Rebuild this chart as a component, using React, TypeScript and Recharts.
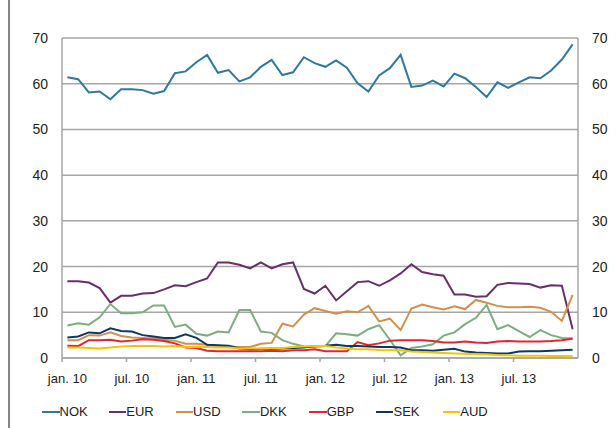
import { CartesianGrid, Line, LineChart, XAxis, YAxis } from 'recharts'

const monthNames = ['jan.', 'feb.', 'mar.', 'apr.', 'mai', 'jun.', 'jul.', 'aug.', 'sep.', 'okt.', 'nov.', 'des.']
const years = ['10', '11', '12', '13']
const months = years.flatMap((y) => monthNames.map((m) => `${m} ${y}`))

const yTicks = [0, 10, 20, 30, 40, 50, 60, 70]

const nok = [
  61.4, 61.0, 58.1, 58.3, 56.6, 58.8, 58.8, 58.6, 57.8, 58.4, 62.3, 62.7,
  64.7, 66.3, 62.4, 63.0, 60.5, 61.4, 63.7, 65.2, 61.9, 62.5, 65.8, 64.5,
  63.7, 65.1, 63.5, 60.1, 58.3, 61.8, 63.4, 66.3, 59.3, 59.6, 60.7, 59.4,
  62.2, 61.2, 59.3, 57.1, 60.3, 59.1, 60.3, 61.4, 61.2, 62.9, 65.3, 68.6,
]
const eur = [
  16.8, 16.8, 16.5, 15.3, 12.1, 13.6, 13.6, 14.1, 14.2, 15.0, 15.9, 15.7,
  16.6, 17.4, 20.9, 20.9, 20.4, 19.6, 20.9, 19.6, 20.5, 20.9, 15.1, 14.1,
  15.8, 12.6, 14.6, 16.6, 16.8, 15.8, 17.0, 18.5, 20.5, 18.8, 18.3, 18.0,
  13.9, 13.9, 13.4, 13.5, 16.0, 16.4, 16.3, 16.2, 15.4, 15.9, 15.8, 6.3,
]
const usd = [
  3.9, 3.9, 5.0, 4.9, 5.6, 4.8, 4.5, 4.4, 4.3, 4.0, 3.8, 3.1,
  3.1, 2.9, 2.7, 2.5, 2.4, 2.4, 3.1, 3.3, 7.5, 6.9, 9.5, 10.9,
  10.3, 9.7, 10.2, 10.0, 11.4, 8.0, 8.6, 6.1, 10.8, 11.7, 11.1, 10.6,
  11.3, 10.7, 12.7, 12.1, 11.4, 11.1, 11.1, 11.2, 11.0, 10.1, 8.1, 13.8,
]
const dkk = [
  7.1, 7.6, 7.3, 8.9, 11.8, 9.8, 9.8, 10.0, 11.5, 11.5, 6.8, 7.3,
  5.3, 4.9, 5.8, 5.6, 10.5, 10.5, 5.8, 5.5, 3.9, 3.1, 2.5, 2.4,
  2.6, 5.4, 5.2, 4.9, 6.3, 7.2, 4.0, 0.6, 2.2, 2.5, 3.0, 4.9,
  5.6, 7.4, 8.8, 11.6, 6.3, 7.2, 5.9, 4.6, 6.1, 5.0, 4.4, 4.3,
]
const gbp = [
  2.7, 2.6, 3.9, 3.9, 4.0, 3.6, 3.8, 4.1, 4.0, 3.7, 3.2, 2.3,
  2.2, 1.6, 1.5, 1.5, 1.5, 1.5, 1.5, 1.6, 1.5, 1.7, 1.7, 1.9,
  1.5, 1.5, 1.5, 3.5, 2.8, 3.2, 3.8, 3.9, 3.9, 3.9, 3.7, 3.4,
  3.4, 3.6, 3.4, 3.3, 3.6, 3.7, 3.6, 3.6, 3.6, 3.7, 3.9, 4.2,
]
const sek = [
  4.5, 4.7, 5.6, 5.4, 6.5, 5.9, 5.8, 5.0, 4.7, 4.4, 4.4, 5.2,
  4.4, 2.9, 2.8, 2.7, 2.1, 1.9, 2.0, 2.0, 2.1, 2.2, 2.3, 2.6,
  2.7, 2.9, 2.6, 2.6, 2.5, 2.4, 2.4, 2.3, 1.7, 1.7, 1.6, 1.8,
  2.0, 1.4, 1.2, 1.1, 1.0, 1.0, 1.4, 1.5, 1.5, 1.6, 1.7, 1.8,
]
const aud = [
  2.3, 2.3, 2.2, 2.1, 2.3, 2.5, 2.6, 2.6, 2.6, 2.5, 2.6, 2.4,
  2.4, 2.4, 2.3, 2.3, 2.1, 2.1, 2.1, 2.2, 2.2, 2.4, 2.5, 2.6,
  2.6, 2.3, 2.1, 1.9, 1.9, 1.75, 1.7, 1.7, 1.4, 1.3, 1.2, 1.1,
  1.0, 0.95, 0.8, 0.8, 0.65, 0.6, 0.5, 0.5, 0.5, 0.45, 0.45, 0.4,
]

// both value axes share the 0-70 range, so NOK sits on the right one
const series = [
  { key: 'NOK', color: '#2f789f', values: nok, axis: 'right' },
  { key: 'EUR', color: '#6b2e6c', values: eur, axis: 'left' },
  { key: 'USD', color: '#d4904a', values: usd, axis: 'left' },
  { key: 'DKK', color: '#7cae80', values: dkk, axis: 'left' },
  { key: 'GBP', color: '#e5252e', values: gbp, axis: 'left' },
  { key: 'SEK', color: '#0c3961', values: sek, axis: 'left' },
  { key: 'AUD', color: '#f8c300', values: aud, axis: 'left' },
]

const data = months.map((month, i) => {
  const row: Record<string, string | number> = { month }
  series.forEach((s) => {
    row[s.key] = s.values[i]
  })
  return row
})

const font = '"Liberation Sans", Arial, Helvetica, sans-serif'
const textColor = '#222'
const axisColor = '#a6a6a6'

// label under the month, small tick on the boundary between categories
function MonthTick(props: any) {
  const { x, y, payload } = props
  const half = payload && payload.offset ? payload.offset : 5.4
  return (
    <g>
      <line x1={x - half} x2={x - half} y1={y - 15} y2={y - 11} stroke={axisColor} strokeWidth={1.5} />
      <text x={x} y={y} dy={9.5} textAnchor="middle" fontSize={13} fill={textColor} fontFamily={font}>
        {payload.value}
      </text>
    </g>
  )
}

export default function App() {
  return (
    <div
      style={{
        position: 'absolute',
        left: 0,
        top: 0,
        width: 616,
        height: 428,
        background: '#fff',
        fontFamily: font,
      }}
    >
      <div style={{ position: 'absolute', left: 8, top: 0, width: 2, height: 428, background: '#858585' }} />
      <LineChart width={616} height={428} data={data} margin={{ top: 38, right: 0, left: 0, bottom: 40 }}>
        <CartesianGrid yAxisId="left" vertical={false} stroke={axisColor} strokeWidth={1.5} />
        <XAxis
          dataKey="month"
          scale="band"
          interval={5}
          height={30}
          tickSize={0}
          tickMargin={15}
          stroke={axisColor}
          strokeWidth={1.5}
          tick={<MonthTick />}
        />
        <YAxis
          yAxisId="left"
          width={62}
          domain={[0, 70]}
          ticks={yTicks}
          tickSize={0}
          tickMargin={14}
          stroke={axisColor}
          strokeWidth={1.5}
          tick={{ fill: textColor, fontSize: 14, fontFamily: font }}
        />
        <YAxis
          yAxisId="right"
          orientation="right"
          width={38}
          domain={[0, 70]}
          ticks={yTicks}
          tickSize={0}
          tickMargin={14}
          stroke={axisColor}
          strokeWidth={1.5}
          tick={{ fill: textColor, fontSize: 14, fontFamily: font, textAnchor: 'start' }}
        />
        {series.map((s) => (
          <Line
            key={s.key}
            yAxisId={s.axis}
            type="linear"
            dataKey={s.key}
            stroke={s.color}
            strokeWidth={2}
            dot={false}
            isAnimationActive={false}
          />
        ))}
      </LineChart>
      <div style={{ position: 'absolute', left: 42, top: 403, display: 'flex', height: 18 }}>
        {series.map((s) => (
          <div key={s.key} style={{ width: 66.8, display: 'flex', alignItems: 'center' }}>
            <div style={{ width: 17.5, height: 2, background: s.color }} />
            <span style={{ fontSize: 13, color: textColor, lineHeight: '18px' }}>{s.key}</span>
          </div>
        ))}
      </div>
    </div>
  )
}
